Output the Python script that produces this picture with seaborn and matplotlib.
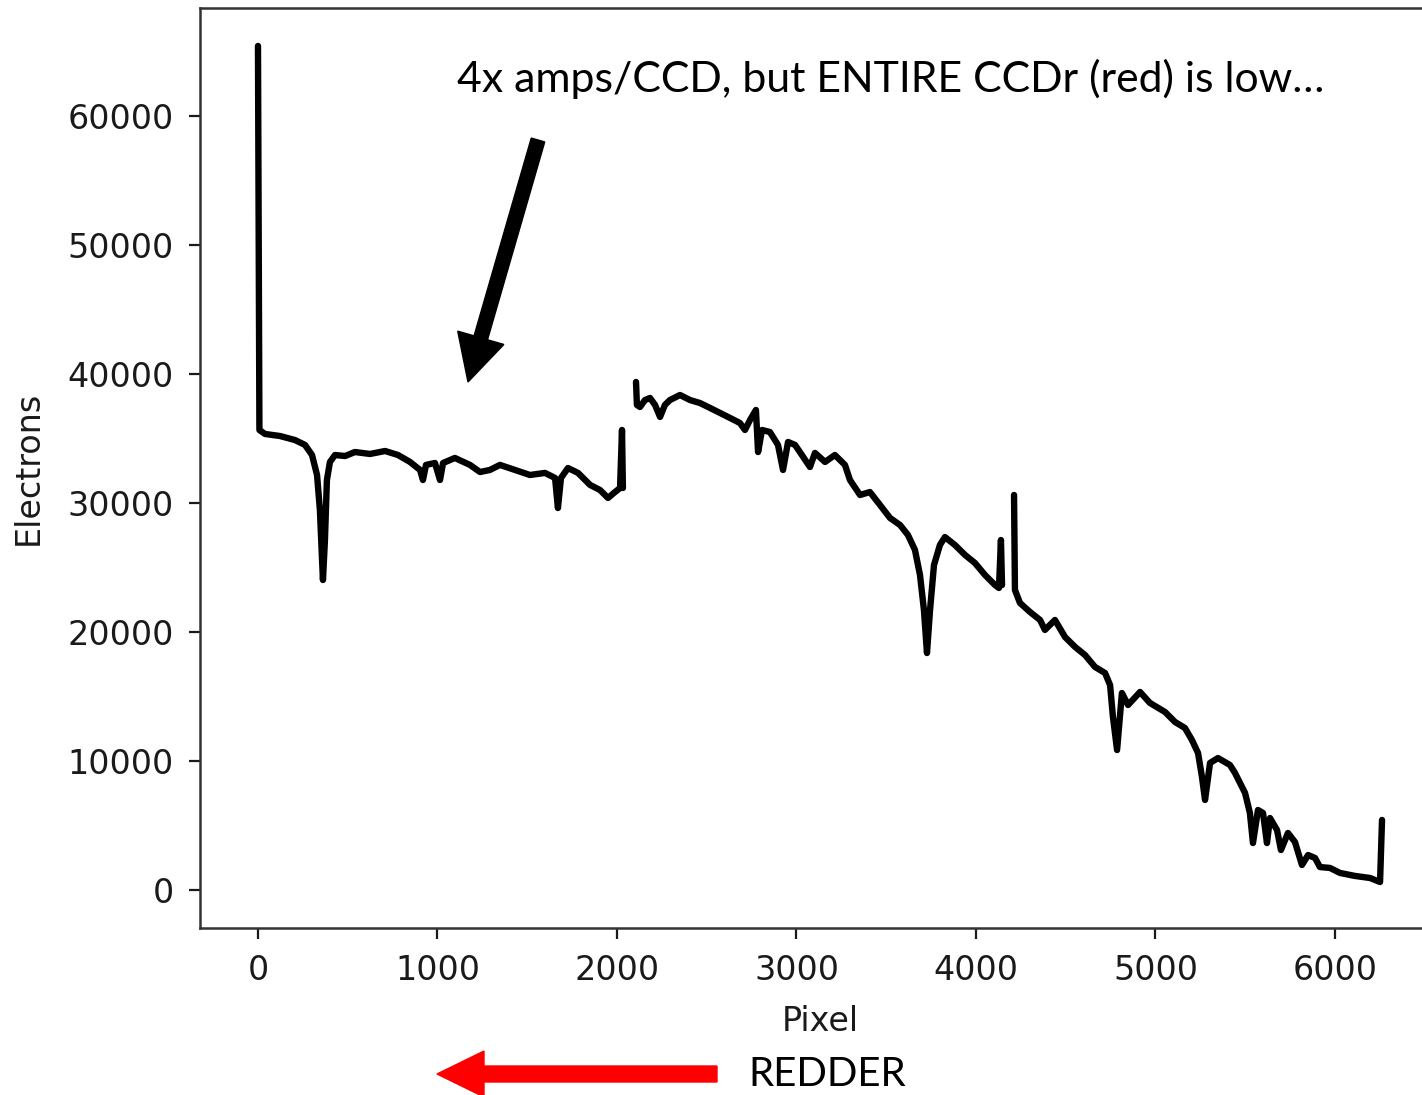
import numpy as np
import pandas as pd
import matplotlib
matplotlib.use("Agg")
import matplotlib.pyplot as plt
from matplotlib.patches import FancyArrow
from matplotlib.transforms import IdentityTransform
import seaborn as sns

# ---- data (three CCD segments) ----
pix_1 = [0, 8, 39, 123, 206, 262, 301, 329, 345, 357, 362, 373, 384, 401, 429, 485, 540,
         624, 708, 780, 847, 903, 919, 936, 986, 1014, 1031, 1097, 1181, 1237, 1292, 1348,
         1432, 1515, 1599, 1655, 1671, 1688, 1727, 1783, 1850, 1905, 1950, 1989, 2017,
         2028, 2033]
ele_1 = [65430, 35660, 35350, 35190, 34880, 34500, 33720, 32170, 29460, 25580, 24030,
         27130, 31780, 33180, 33720, 33640, 33950, 33800, 34030, 33720, 33180, 32560,
         31780, 32950, 33100, 31780, 33100, 33490, 32950, 32400, 32560, 32950, 32560,
         32170, 32330, 31940, 29610, 31940, 32710, 32330, 31400, 31010, 30390, 30850,
         31160, 35660, 31160]

pix_2 = [2106, 2111, 2128, 2156, 2184, 2212, 2240, 2267, 2295, 2351, 2407, 2462, 2518,
         2574, 2630, 2685, 2713, 2741, 2774, 2786, 2808, 2852, 2897, 2925, 2953, 2992,
         3019, 3075, 3103, 3159, 3214, 3270, 3298, 3354, 3409, 3465, 3521, 3577, 3621,
         3660, 3688, 3710, 3727, 3744, 3766, 3799, 3827, 3883, 3939, 3994, 4050, 4106,
         4128, 4139, 4145]
ele_2 = [39380, 37600, 37440, 37980, 38140, 37600, 36670, 37600, 37980, 38370, 37980,
         37750, 37370, 36980, 36590, 36200, 35660, 36430, 37210, 33950, 35660, 35500,
         34500, 32560, 34730, 34500, 33950, 32790, 33880, 33180, 33720, 32950, 31780,
         30620, 30850, 29850, 28840, 28290, 27520, 26360, 24420, 21710, 18370, 21710,
         25190, 26740, 27360, 26740, 25970, 25350, 24420, 23640, 23410, 27130, 23640]

pix_3 = [4212, 4217, 4245, 4301, 4357, 4384, 4440, 4496, 4552, 4607, 4663, 4719, 4747,
         4763, 4786, 4813, 4847, 4914, 4969, 5053, 5109, 5164, 5203, 5237, 5259, 5276,
         5304, 5348, 5415, 5443, 5499, 5526, 5543, 5571, 5599, 5621, 5638, 5677, 5699,
         5738, 5777, 5816, 5850, 5889, 5916, 5972, 6028, 6111, 6195, 6251, 6262]
ele_3 = [30620, 23260, 22250, 21550, 20930, 20160, 20930, 19610, 18840, 18220, 17290,
         16820, 15890, 13410, 10850, 15270, 14340, 15350, 14500, 13800, 13020, 12560,
         11630, 10620, 8760, 6980, 9850, 10230, 9690, 9070, 7520, 5970, 3640, 6200, 5970,
         3640, 5580, 4650, 3100, 4420, 3720, 1940, 2710, 2480, 1780, 1710, 1320, 1090,
         930, 620, 5430]

x_ticks = [0, 1000, 2000, 3000, 4000, 5000, 6000]
y_ticks = [0, 10000, 20000, 30000, 40000, 50000, 60000]

note_text = "4x amps/CCD, but ENTIRE CCDr (red) is low\u2026"
redder_text = "REDDER"

df = pd.concat([
    pd.DataFrame({"Pixel": pix_1, "Electrons": ele_1, "seg": 0}),
    pd.DataFrame({"Pixel": pix_2, "Electrons": ele_2, "seg": 1}),
    pd.DataFrame({"Pixel": pix_3, "Electrons": ele_3, "seg": 2}),
], ignore_index=True)

sns.set_theme(style="ticks")
plt.rcParams["font.family"] = ["DejaVu Sans"]

W, H = 1422, 1095
fig = plt.figure(figsize=(W / 100, H / 100), dpi=100)
ax = fig.add_axes([200 / W, 1 - 928 / H, (1440 - 200) / W, (928 - 8) / H])

sns.lineplot(data=df, x="Pixel", y="Electrons", units="seg", estimator=None,
             sort=False, color="black", linewidth=4.6, ax=ax)

ax.set_xlim(-323, 6585)
ax.set_ylim(-2946, 68370)
ax.set_xticks(x_ticks)
ax.set_yticks(y_ticks)
ax.tick_params(axis="both", labelsize=24, length=8, width=1.6,
               colors="#1a1a1a", labelcolor="#1a1a1a")
ax.tick_params(axis="y", pad=11)
ax.tick_params(axis="x", pad=11)
for side in ["left", "bottom", "top", "right"]:
    ax.spines[side].set_linewidth(1.8)
    ax.spines[side].set_color("#333333")
ax.spines["right"].set_visible(False)
ax.set_xlabel("Pixel", fontsize=24, color="#1a1a1a", labelpad=13)
ax.set_ylabel("Electrons", fontsize=24, color="#1a1a1a", labelpad=16)

ident = IdentityTransform()
# black arrow (pixel coordinates of the canvas)
fig.patches.append(FancyArrow(538, H - 140, -70, -242, width=14, head_width=48,
                              head_length=46, length_includes_head=True,
                              color="black", transform=ident, figure=fig))
# red arrow
fig.patches.append(FancyArrow(717, H - 1074, -280, 0, width=16, head_width=46,
                              head_length=47, length_includes_head=True,
                              color="#ff0000", transform=ident, figure=fig))

fig.text(457 / W, 1 - 92 / H, note_text, fontsize=30.8, family=["Lato", "DejaVu Sans"],
         color="black", ha="left", va="baseline")
fig.text(748 / W, 1 - 1086 / H, redder_text, fontsize=29, family=["Lato", "DejaVu Sans"],
         color="black", ha="left", va="baseline")

fig.savefig("out.png", dpi=100)
